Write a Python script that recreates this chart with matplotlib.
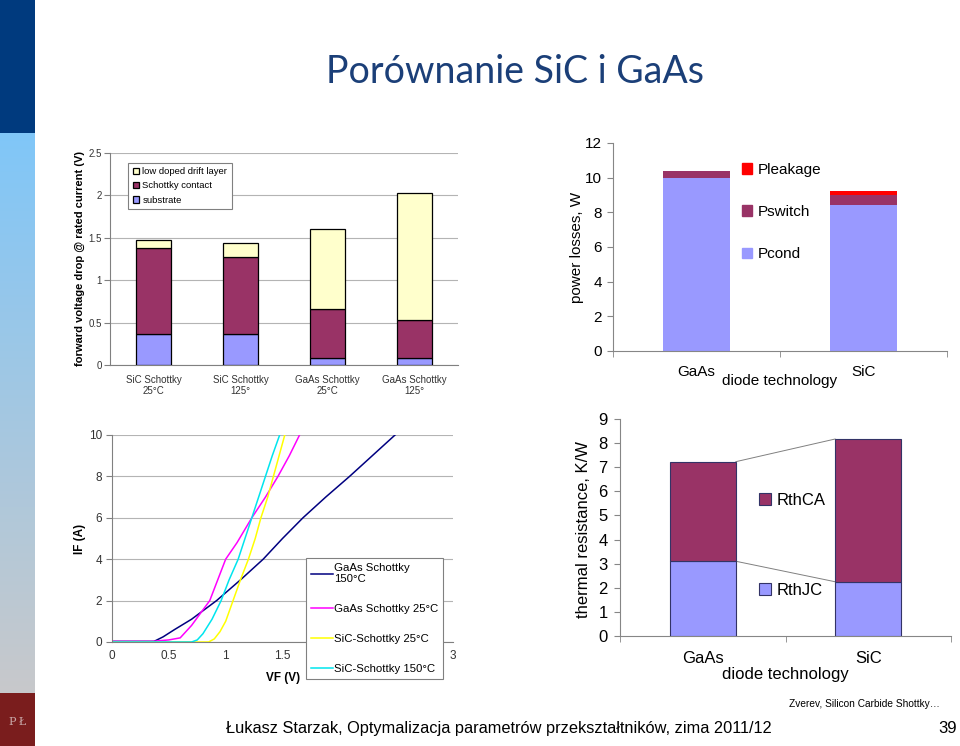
import numpy as np
import matplotlib
matplotlib.use("Agg")
import matplotlib.pyplot as plt
from matplotlib.patches import Patch

W, H = 960, 746

plt.rcParams["font.family"] = ["Liberation Sans", "DejaVu Sans"]

# forward voltage drop components (top left)
vf_categories = ["SiC Schottky\n25°C", "SiC Schottky\n125°", "GaAs Schottky\n25°C", "GaAs Schottky\n125°"]
vf_substrate = [0.36, 0.36, 0.08, 0.08]
vf_schottky = [1.02, 0.91, 0.58, 0.45]
vf_drift = [0.09, 0.17, 0.94, 1.50]
vf_ticks = [0, 0.5, 1, 1.5, 2, 2.5]

# power losses (top right)
loss_categories = ["GaAs", "SiC"]
p_cond = [10.0, 8.4]
p_switch = [0.4, 0.62]
p_leakage = [0.0, 0.2]

# IF(VF) characteristics (bottom left)
gaas150_v = [0, 0.37, 0.45, 0.55, 0.7, 0.92, 1.13, 1.33, 1.5, 1.68, 1.88, 2.09, 2.29, 2.49]
gaas150_i = [0.03, 0.03, 0.25, 0.6, 1.1, 2, 3, 4, 5, 6, 7, 8, 9, 10]
gaas25_v = [0, 0.35, 0.5, 0.6, 0.7, 0.8, 0.86, 0.93, 1.0, 1.1, 1.23, 1.35, 1.46, 1.56, 1.65]
gaas25_i = [0.03, 0.03, 0.1, 0.2, 0.8, 1.55, 2, 3, 4, 4.8, 6, 7, 8, 9, 10]
sic25_v = [0, 0.85, 0.9, 0.95, 1.0, 1.065, 1.13, 1.2, 1.26, 1.31, 1.37, 1.42, 1.47, 1.52]
sic25_i = [0, 0, 0.15, 0.5, 1.0, 2, 3, 4, 5, 6, 7, 8, 9, 10]
sic150_v = [0, 0.7, 0.75, 0.8, 0.88, 0.96, 1.03, 1.11, 1.17, 1.23, 1.29, 1.35, 1.41, 1.475]
sic150_i = [0, 0, 0.1, 0.4, 1.1, 2, 3, 4, 5, 6, 7, 8, 9, 10]
if_ticks = [0, 2, 4, 6, 8, 10]
vf_axis_ticks = [0, 0.5, 1, 1.5, 2, 2.5, 3]

# thermal resistance (bottom right)
rth_categories = ["GaAs", "SiC"]
rth_jc = [3.1, 2.25]
rth_ca = [4.13, 5.92]

C_BLUE = "#9999ff"
C_PLUM = "#993366"
C_CREAM = "#ffffcc"
AX_GRAY = "#868686"


def frac(left, top, right, bottom):
    return [left / W, (H - bottom) / H, (right - left) / W, (bottom - top) / H]


fig = plt.figure(figsize=(W / 100, H / 100), dpi=100)
fig.patch.set_facecolor("white")

# sidebar
side = fig.add_axes([0, 0, 35 / W, 1])
rows = np.zeros((H, 1, 3))
top_c = np.array([0x00, 0x3a, 0x7e]) / 255
g0 = np.array([0x80, 0xc6, 0xf8]) / 255
g1 = np.array([0xc8, 0xc9, 0xcb]) / 255
red_c = np.array([0x7a, 0x1d, 0x1d]) / 255
for r in range(H):
    if r < 133:
        rows[r, 0] = top_c
    elif r < 693:
        t = (r - 133) / (693 - 133)
        rows[r, 0] = g0 * (1 - t) + g1 * t
    else:
        rows[r, 0] = red_c
side.imshow(rows, aspect="auto", extent=[0, 1, H, 0])
side.set_axis_off()
side.text(0.5, 722, "P\u2009Ł", color="#c9a9a9", fontsize=8, ha="center", va="center",
          family="DejaVu Serif")

# title and footer
fig.text(515 / W, 1 - 72 / H, "Porównanie SiC i GaAs", color="#1b3f78", fontsize=27,
         ha="center", va="center", family=["Lato", "DejaVu Sans"])
fig.text(499 / W, 1 - 733 / H,
         "Łukasz Starzak, Optymalizacja parametrów przekształtników, zima 2011/12",
         fontsize=11.8, ha="center", va="baseline")
fig.text(957 / W, 1 - 733 / H, "39", fontsize=12, ha="right", va="baseline")
fig.text(940 / W, 1 - 704 / H, "Zverev, Silicon Carbide Shottky…", fontsize=7.3,
         ha="right", va="center")

# ---- top left: forward voltage drop
ax1 = fig.add_axes(frac(110, 153, 458, 365))
x1 = np.arange(len(vf_categories))
b2 = np.add(vf_substrate, vf_schottky)
ax1.bar(x1, vf_substrate, 0.4, color=C_BLUE, edgecolor="black", lw=0.9, zorder=3)
ax1.bar(x1, vf_schottky, 0.4, bottom=vf_substrate, color=C_PLUM, edgecolor="black", lw=0.9, zorder=3)
ax1.bar(x1, vf_drift, 0.4, bottom=b2, color=C_CREAM, edgecolor="black", lw=0.9, zorder=3)
ax1.set_xlim(-0.5, len(vf_categories) - 0.5)
ax1.set_ylim(0, 2.5)
ax1.set_yticks(vf_ticks)
ax1.set_yticklabels(["0", "0.5", "1", "1.5", "2", "2.5"])
ax1.set_xticks(x1)
ax1.set_xticklabels(vf_categories)
ax1.grid(axis="y", color="#b4b4b4", lw=0.8, zorder=0)
for s in ["top", "right"]:
    ax1.spines[s].set_visible(False)
for s in ["left", "bottom"]:
    ax1.spines[s].set_color("#808080")
ax1.tick_params(axis="y", direction="out", length=4, color="#808080", labelsize=7,
                labelcolor="#333333", pad=2)
ax1.tick_params(axis="x", length=0, labelsize=7, labelcolor="#333333", pad=7)
ax1.set_ylabel("forward voltage drop @ rated current (V)", fontsize=8, fontweight="bold",
               va="center")
ax1.yaxis.set_label_coords((80 - 110) / 348, 0.5)
h1 = [Patch(facecolor=C_CREAM, edgecolor="black", lw=0.9),
      Patch(facecolor=C_PLUM, edgecolor="black", lw=0.9),
      Patch(facecolor=C_BLUE, edgecolor="black", lw=0.9)]
leg1 = ax1.legend(h1, ["low doped drift layer", "Schottky contact", "substrate"],
                  loc="upper left", bbox_to_anchor=(0.052, 0.955), fontsize=6.8,
                  fancybox=False, edgecolor="#808080", framealpha=1,
                  handlelength=0.7, handleheight=0.7, handletextpad=0.3,
                  labelspacing=0.55, borderpad=0.5, borderaxespad=0)
leg1.get_frame().set_linewidth(0.8)
leg1.set_zorder(5)

# ---- top right: power losses
ax2 = fig.add_axes(frac(613, 143, 947, 351))
x2 = np.arange(len(loss_categories))
bs = np.add(p_cond, p_switch)
ax2.bar(x2, p_cond, 0.4, color=C_BLUE, label="Pcond")
ax2.bar(x2, p_switch, 0.4, bottom=p_cond, color=C_PLUM, label="Pswitch")
ax2.bar(x2, p_leakage, 0.4, bottom=bs, color="#ff0000", label="Pleakage")
ax2.set_xlim(-0.5, len(loss_categories) - 0.5)
ax2.set_ylim(0, 12)
ax2.set_yticks(range(0, 13, 2))
ax2.set_xticks(x2)
ax2.set_xticklabels(loss_categories)
ax2.set_xticks([-0.5, 0.5, 1.5], minor=True)
for s in ["top", "right"]:
    ax2.spines[s].set_visible(False)
for s in ["left", "bottom"]:
    ax2.spines[s].set_color(AX_GRAY)
ax2.tick_params(axis="y", direction="out", length=4, color=AX_GRAY, labelsize=11, pad=4)
ax2.tick_params(axis="x", which="major", length=0, labelsize=11, pad=10)
ax2.tick_params(axis="x", which="minor", direction="out", length=4, color=AX_GRAY)
ax2.set_ylabel("power losses, W", fontsize=11, va="center")
ax2.yaxis.set_label_coords((577 - 613) / 334, 0.5)
ax2.set_xlabel("diode technology", fontsize=11)
ax2.xaxis.set_label_coords(0.5, (351 - 374) / 208)
h2 = [Patch(color="#ff0000"), Patch(color=C_PLUM), Patch(color=C_BLUE)]
ax2.legend(h2, ["Pleakage", "Pswitch", "Pcond"], loc="upper left",
           bbox_to_anchor=(0.385, 0.905), frameon=False, fontsize=11,
           handlelength=0.7, handleheight=0.7, handletextpad=0.35,
           labelspacing=1.85, borderaxespad=0, borderpad=0)

# ---- bottom left: IF(VF)
ax3 = fig.add_axes(frac(112, 435, 453, 642))
ax3.plot(gaas150_v, gaas150_i, color="#000080", lw=1.1, label="GaAs Schottky\n150°C")
ax3.plot(gaas25_v, gaas25_i, color="#ff00ff", lw=1.1, label="GaAs Schottky 25°C")
ax3.plot(sic25_v, sic25_i, color="#ffff00", lw=1.1, label="SiC-Schottky 25°C")
ax3.plot(sic150_v, sic150_i, color="#00e5ee", lw=1.1, label="SiC-Schottky 150°C")
ax3.set_xlim(0, 3)
ax3.set_ylim(0, 10)
ax3.set_xticks(vf_axis_ticks)
ax3.set_xticklabels(["0", "0.5", "1", "1.5", "2", "2.5", "3"])
ax3.set_yticks(if_ticks)
ax3.grid(axis="y", color="#b4b4b4", lw=0.8, zorder=0)
for s in ["top", "right"]:
    ax3.spines[s].set_visible(False)
for s in ["left", "bottom"]:
    ax3.spines[s].set_color("#808080")
ax3.tick_params(axis="y", direction="out", length=4, color="#808080", labelsize=8.5,
                labelcolor="#333333", pad=3)
ax3.tick_params(axis="x", length=0, labelsize=8.5, labelcolor="#333333", pad=6)
ax3.set_ylabel("IF (A)", fontsize=8.5, fontweight="bold", va="center")
ax3.yaxis.set_label_coords((80 - 112) / 341, 0.5)
ax3.set_xlabel("VF (V)", fontsize=8.5, fontweight="bold")
ax3.xaxis.set_label_coords((283 - 112) / 341, (642 - 672) / 207)
leg3 = ax3.legend(loc="upper left", bbox_to_anchor=(0.57, 0.405), fontsize=8.2,
                  fancybox=False, edgecolor="#808080", framealpha=1,
                  handlelength=1.9, handletextpad=0.1, labelspacing=1.75,
                  borderpad=0.4, borderaxespad=0)
leg3.get_frame().set_linewidth(0.8)
leg3.set_zorder(5)

# ---- bottom right: thermal resistance
ax4 = fig.add_axes(frac(620, 419, 951, 636))
x4 = np.arange(len(rth_categories))
bw = 0.4
ax4.bar(x4, rth_jc, bw, color=C_BLUE, edgecolor="#333366", lw=0.8, zorder=3)
ax4.bar(x4, rth_ca, bw, bottom=rth_jc, color=C_PLUM, edgecolor="#333366", lw=0.8, zorder=3)
rth_tot = np.add(rth_jc, rth_ca)
ax4.plot([x4[0] + bw / 2, x4[1] - bw / 2], [rth_jc[0], rth_jc[1]], color="#808080", lw=0.7, zorder=2)
ax4.plot([x4[0] + bw / 2, x4[1] - bw / 2], [rth_tot[0], rth_tot[1]], color="#808080", lw=0.7, zorder=2)
ax4.set_xlim(-0.5, len(rth_categories) - 0.5)
ax4.set_ylim(0, 9)
ax4.set_yticks(range(0, 10))
ax4.set_xticks(x4)
ax4.set_xticklabels(rth_categories)
ax4.set_xticks([-0.5, 0.5, 1.5], minor=True)
for s in ["top", "right"]:
    ax4.spines[s].set_visible(False)
for s in ["left", "bottom"]:
    ax4.spines[s].set_color(AX_GRAY)
ax4.tick_params(axis="y", direction="out", length=4, color=AX_GRAY, labelsize=12, pad=5)
ax4.tick_params(axis="x", which="major", length=0, labelsize=12, pad=11)
ax4.tick_params(axis="x", which="minor", direction="out", length=4, color=AX_GRAY)
ax4.set_ylabel("thermal resistance, K/W", fontsize=12, va="center")
ax4.yaxis.set_label_coords((583 - 620) / 331, 0.49)
ax4.set_xlabel("diode technology", fontsize=12)
ax4.xaxis.set_label_coords(0.5, (636 - 667) / 217)
h4 = [Patch(facecolor=C_PLUM, edgecolor="#333366", lw=0.8),
      Patch(facecolor=C_BLUE, edgecolor="#333366", lw=0.8)]
ax4.legend(h4, ["RthCA", "RthJC"], loc="upper left", bbox_to_anchor=(0.42, 0.66),
           frameon=False, fontsize=12, handlelength=0.7, handleheight=0.7,
           handletextpad=0.35, labelspacing=4.5, borderaxespad=0, borderpad=0)

fig.savefig("out.png", dpi=100)
